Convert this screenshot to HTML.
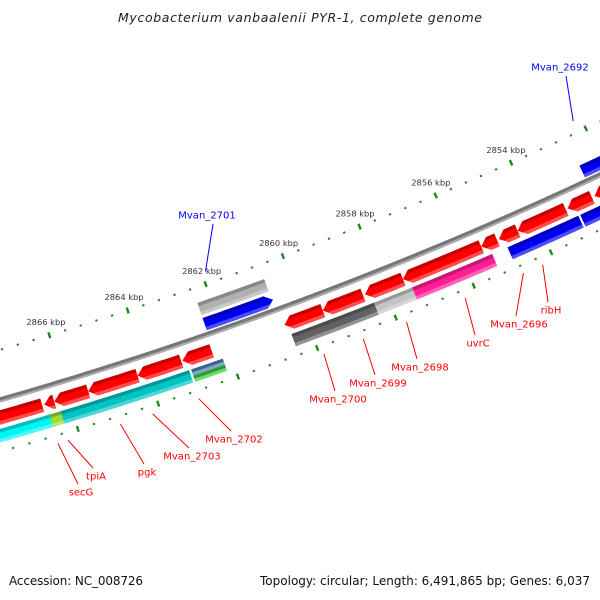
<!DOCTYPE html>
<html><head><meta charset="utf-8"><style>
html,body{margin:0;padding:0;background:#fff}
svg{display:block}
text{font-family:"DejaVu Sans","Liberation Sans",sans-serif}
</style></head><body>
<svg id="map" width="600" height="600" viewBox="0 0 600 600" xmlns="http://www.w3.org/2000/svg">
<text x="300" y="22" text-anchor="middle" font-size="12.5" font-style="italic" fill="#222" textLength="364">Mycobacterium vanbaalenii PYR-1, complete genome</text>
<g id="ticks"></g>
<g id="backbone"></g>
<g id="features"></g>
<g id="labels"></g>
<text x="9" y="585" font-size="12" fill="#111" textLength="134">Accession: NC_008726</text>
<text x="590" y="585" text-anchor="end" font-size="12" fill="#111" textLength="330">Topology: circular; Length: 6,491,865 bp; Genes: 6,037</text>
</svg>
<script>
// ---- data (kbp) ----
const majorTicks = [2850,2852,2854,2856,2858,2860,2862,2864,2866,2868,2870];
const tickLabels = ["2850 kbp","2852 kbp","2854 kbp","2856 kbp","2858 kbp","2860 kbp","2862 kbp","2864 kbp","2866 kbp","2868 kbp","2870 kbp"];
const revStarts = [2868.4,2866.6,2866.35,2865.5,2864.26,2863.13,2860.54,2859.56,2858.48,2857.5,2855.47,2855.01,2854.52,2853.21,2852.5];
const revEnds   = [2866.65,2866.35,2865.5,2864.26,2863.16,2862.39,2859.56,2858.53,2857.5,2855.47,2855.06,2854.52,2853.26,2852.57,2851.5];
const cogStarts = [2868.4,2866.55,2866.27,2865.43,2864.17,2860.46,2858.35,2857.37,2854.9,2854.35,2853.0];
const cogEnds   = [2866.52,2866.27,2865.43,2864.17,2863.05,2858.35,2857.37,2855.3,2854.35,2853.05,2852.0];
const cogColors = ["#00f4f4","#99dd33","#00c4c4","#00c4c4","#00c4c4","#626262","#c4c4c4","#ff1e96","#0000f0","#0000f0","#0000f0"];
const fwdStarts = [2862.34,2852.52];
const fwdEnds   = [2860.59,2851.5];
const fwdColors = ["#0000f0","#0000f0"];
const fwd2Starts = [2862.34];
const fwd2Ends   = [2860.62];
const fwd2Colors = ["#b0b0b0"];
const splitStart = 2863.0, splitEnd = 2862.2;
const geneNames = ["secG","tpiA","pgk","Mvan_2703","Mvan_2702","Mvan_2700","Mvan_2699","Mvan_2698","uvrC","Mvan_2696","ribH"];
const geneLabelX = [81,96,147,192,234,338,378,420,478,519,551];
const geneLabelY = [493,477,473,457,440,400,384,368,344,325,311];
const geneLineKbp = [2866.55,2866.3,2865.0,2864.2,2863.05,2859.9,2858.9,2857.8,2856.3,2854.8,2854.3];
const fwdNames = ["Mvan_2701","Mvan_2692"];
const fwdLabelX = [207,560];
const fwdLabelY = [216,68];
const fwdLineKbp = [2861.9,2852.2];

// ---- geometry ----
const NS="http://www.w3.org/2000/svg";
const R=4000, PX=41.6;
const phi0=Math.atan2(0.937,0.35);
const cx=300-0.35*R, cy=302-0.937*R;
function pt(k,v){const p=phi0+(k-2860)*PX/R;const r=R-v;return [cx+r*Math.cos(p),cy+r*Math.sin(p)];}
function mk(tag,attrs,parent){const e=document.createElementNS(NS,tag);for(const a in attrs)e.setAttribute(a,attrs[a]);parent.appendChild(e);return e;}
function edge(a,b,v,n){const o=[];for(let i=0;i<=n;i++){o.push(pt(a+(b-a)*i/n,v));}return o;}
function poly(pts){return pts.map(p=>p[0].toFixed(2)+","+p[1].toFixed(2)).join(" ");}

const gT=document.getElementById('ticks');
for(const ring of [48,-50]){
  for(let k=2849.2;k<=2870.8;k+=0.4){
    const kk=Math.round(k*10)/10;
    const isMaj=majorTicks.includes(Math.round(kk))&&Math.abs(kk-Math.round(kk))<0.01;
    const len=isMaj?6:2;
    const p1=pt(kk,ring-len/2),p2=pt(kk,ring+len/2);
    const l=mk('line',{x1:p1[0],y1:p1[1],x2:p2[0],y2:p2[1],stroke:'#1a8a1a','stroke-width':isMaj?2.4:2.2},gT);
    
    
  }
}
majorTicks.forEach((k,i)=>{
  const p=pt(k,63);
  if(p[0]>560||p[0]<10) return;
  const t=mk('text',{x:p[0]+1,y:p[1]+1,'text-anchor':'middle','dominant-baseline':'central','font-size':'8.3',fill:'#333'},gT);
  t.textContent=tickLabels[i];
  
  
});

const gB=document.getElementById('backbone');
const bb1=mk('polyline',{points:poly(edge(2869.5,2850.5,0.8,60)),fill:'none',stroke:'#777','stroke-width':3.4},gB);


const bb2=mk('polyline',{points:poly(edge(2869.5,2850.5,-1.9,60)),fill:'none',stroke:'#aaa','stroke-width':1.8},gB);



const gF=document.getElementById('features');
function feature(a,b,v1,v2,color,dir,name){
  const n=8;const hk=Math.min(8/PX,Math.abs(a-b));
  let pts;
  if(dir==='left'){pts=[pt(a,(v1+v2)/2)].concat(edge(a-hk,b,v2,n)).concat(edge(b,a-hk,v1,n));}
  else if(dir==='right'){pts=edge(a,b+hk,v2,n).concat([pt(b,(v1+v2)/2)]).concat(edge(b+hk,a,v1,n));}
  else{pts=edge(a,b,v2,n).concat(edge(b,a,v1,n));}
  const g=mk('g',{},gF);
  
  
  mk('polygon',{points:poly(pts),fill:color},g);
  const tb=v2-3.5, bb=v1+3.5;
  let top,bot;
  if(dir==='left'){top=[pt(a-hk*0.55,tb)].concat(edge(a-hk,b,v2,n)).concat(edge(b,a-hk*0.55,tb,n));bot=[pt(a-hk*0.55,bb)].concat(edge(a-hk*0.55,b,bb,n)).concat(edge(b,a-hk,v1,n));}
  else if(dir==='right'){top=edge(a,b+hk,v2,n).concat([pt(b+hk*0.55,tb)]).concat(edge(b+hk*0.55,a,tb,n));bot=edge(a,b+hk*0.55,bb,n).concat([pt(b+hk,v1)]).concat(edge(b+hk,a,v1,n));}
  else{top=edge(a,b,v2,n).concat(edge(b,a,tb,n));bot=edge(a,b,bb,n).concat(edge(b,a,v1,n));}
  mk('polygon',{points:poly(top),fill:'#000','fill-opacity':0.22},g);
  mk('polygon',{points:poly(bot),fill:'#fff','fill-opacity':0.3},g);
}
revStarts.forEach((s,i)=>feature(s,revEnds[i],-24,-10,'#ff0000','left','reverse-cds'));
cogStarts.forEach((s,i)=>feature(s,cogEnds[i],-41,-28,cogColors[i],'none','cog-feature'));
feature(splitStart,splitEnd,-34.5,-28,'#4a7fb4','none','cog-feature-split-top');
feature(splitStart,splitEnd,-41,-34.5,'#33cc33','none','cog-feature-split-bottom');
fwdStarts.forEach((s,i)=>feature(s,fwdEnds[i],4,17,fwdColors[i],'right','forward-cds'));
fwd2Starts.forEach((s,i)=>feature(s,fwd2Ends[i],20,33,fwd2Colors[i],'none','forward-cog'));

const gL=document.getElementById('labels');
geneNames.forEach((nm,i)=>{
  const p=pt(geneLineKbp[i],-58);
  const l=mk('line',{x1:p[0],y1:p[1],x2:geneLabelX[i]-3,y2:geneLabelY[i]-9,stroke:'#ff0000','stroke-width':1},gL);
  
  
  const t=mk('text',{x:geneLabelX[i],y:geneLabelY[i],'text-anchor':'middle','dominant-baseline':'central','font-size':'10',fill:'#ff0000'},gL);
  t.textContent=nm;
  
  
});
fwdNames.forEach((nm,i)=>{
  const p=pt(fwdLineKbp[i],60);
  const l=mk('line',{x1:fwdLabelX[i]+6,y1:fwdLabelY[i]+8,x2:p[0],y2:p[1],stroke:'#0000ff','stroke-width':1},gL);
  
  
  const t=mk('text',{x:fwdLabelX[i],y:fwdLabelY[i],'text-anchor':'middle','dominant-baseline':'central','font-size':'10',fill:'#0000ff'},gL);
  t.textContent=nm;
  
  
});
</script>
</body></html>
